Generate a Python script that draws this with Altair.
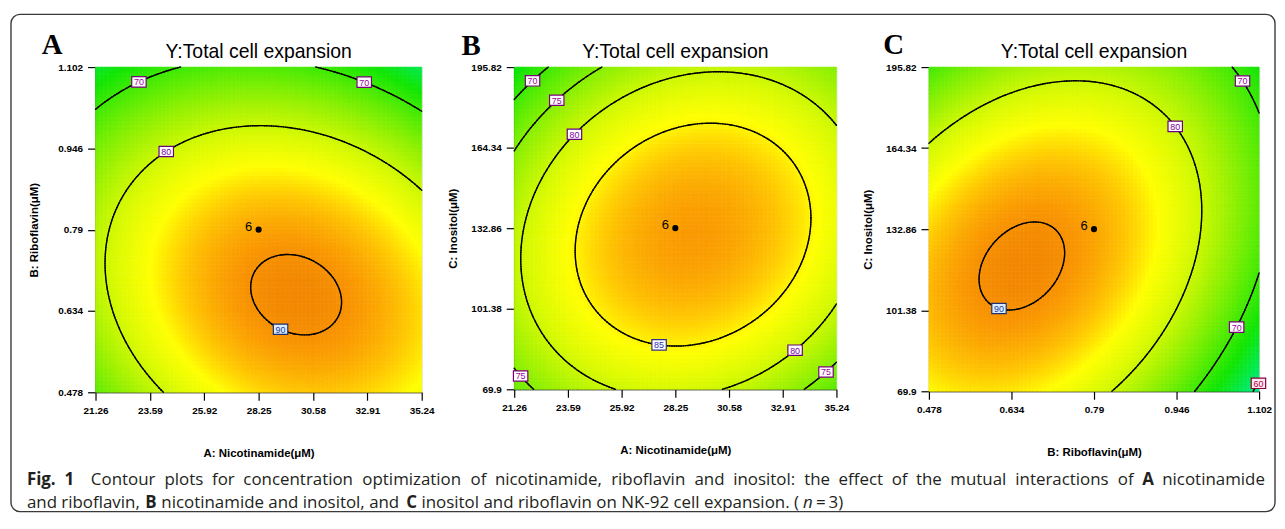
import numpy as np
import pandas as pd
import altair as alt

# ---------------- data ----------------
nico_range = [21.26, 35.24]
ribo_range = [0.478, 1.102]
inos_range = [69.9, 195.82]
nico_ticks = [21.26, 23.59, 25.92, 28.25, 30.58, 32.91, 35.24]
ribo_ticks = [0.478, 0.634, 0.79, 0.946, 1.102]
inos_ticks = [69.9, 101.38, 132.86, 164.34, 195.82]

# second-order response-surface model of each panel (estimated from the contours),
# coded units -1..1:  Y = peak - a*du^2 - b*dv^2 - c*du*dv,  du = u-u0, dv = v-v0
model_A = [90.6, 0.23, -0.40, 8.0, 10.16, 3.36]
model_B = [89.4, 0.11, -0.04, 8.4, 9.4, -2.62]
model_C = [90.6, -0.437, -0.227, 9.8, 8.92, -5.59]

levels_A = [70, 80, 90]
levels_B = [70, 75, 80, 85]
levels_C = [60, 70, 80, 90]

lab_lvl_A = [70, 70, 80, 90]
lab_x_A = [22.97, 32.91, 24.16, 29.27]
lab_y_A = [1.083, 1.083, 0.949, 0.605]

lab_lvl_B = [70, 75, 80, 85, 80, 75, 75]
lab_x_B = [21.94, 23.01, 23.84, 27.60, 33.45, 21.58, 34.85]
lab_y_B = [191.9, 183.5, 169.9, 89.8, 85.1, 75.7, 76.4]

lab_lvl_C = [70, 80, 90, 70, 60]
lab_x_C = [1.083, 0.953, 0.613, 1.047, 1.086]
lab_y_C = [191.8, 174.6, 103.4, 96.1, 74.8]

center_label = ["6"]

color_domain = [56, 62, 67, 72, 77, 81, 84.5, 87, 89.5, 91]
color_range = ["#00f0c8", "#00ea58", "#10e600", "#58ec00", "#a0f200",
               "#d8fa00", "#ffff00", "#ffc800", "#fa9800", "#f08000"]

label_style = {60: ("#b0004a", "#ffe6ee", "#8b0040"),
               70: ("#a000a0", "#ffffff", "#7a007a"),
               75: ("#a000a0", "#ffffff", "#7a007a"),
               80: ("#8000a0", "#ffffff", "#6a0080"),
               85: ("#2a2ab8", "#ffffff", "#303090"),
               90: ("#1c3fa0", "#d8ecff", "#203070")}

caption_line1 = [("Fig.", "b"), ("1", "b"), ("Contour", "r"), ("plots", "r"), ("for", "r"),
                 ("concentration", "r"), ("optimization", "r"), ("of", "r"), ("nicotinamide,", "r"),
                 ("riboflavin", "r"), ("and", "r"), ("inositol:", "r"), ("the", "r"), ("effect", "r"),
                 ("of", "r"), ("the", "r"), ("mutual", "r"), ("interactions", "r"), ("of", "r"),
                 ("A", "b"), ("nicotinamide", "r")]
# (text, style, space before it)
caption_line2 = [("and riboflavin,", "r", 0), ("B", "b", 1), ("nicotinamide and inositol, and", "r", 1),
                 ("C", "b", 1), ("inositol and riboflavin on NK-92 cell expansion. (", "r", 1),
                 ("n", "i", -0.2), ("=\u20093)", "r", 0.6)]

TICK_FONT = "Liberation Sans"
cscale = alt.Scale(domain=color_domain, range=color_range, interpolate="rgb", clamp=True)


def surface(model, u, v):
    peak, u0, v0, a, b, c = model
    du = u - u0
    dv = v - v0
    return peak - a * du * du - b * dv * dv - c * du * dv


def marching(xs, ys, Z, level):
    segs = []
    ny, nx = Z.shape
    for i in range(ny - 1):
        for j in range(nx - 1):
            pts = []
            corners = [(j, i), (j + 1, i), (j + 1, i + 1), (j, i + 1)]
            for k in range(4):
                (ja, ia), (jb, ib) = corners[k], corners[(k + 1) % 4]
                za, zb = Z[ia, ja], Z[ib, jb]
                if (za >= level) != (zb >= level):
                    t = (level - za) / (zb - za)
                    px = xs[ja] + t * (xs[jb] - xs[ja])
                    py = ys[ia] + t * (ys[ib] - ys[ia])
                    pts.append((px, py))
            if len(pts) == 2:
                segs.append(pts[0] + pts[1])
            elif len(pts) == 4:
                segs.append(pts[0] + pts[1])
                segs.append(pts[2] + pts[3])
    return segs


def panel(model, xr, yr, xticks, yticks, xtitle, ytitle, levels,
          lab_lvl, lab_x, lab_y, letter, letter_x, letter_y, w, h, extra=None):
    xc, xh = (xr[0] + xr[1]) / 2, (xr[1] - xr[0]) / 2
    yc, yh = (yr[0] + yr[1]) / 2, (yr[1] - yr[0]) / 2
    N = 84
    xe = np.linspace(xr[0], xr[1], N + 1)
    ye = np.linspace(yr[0], yr[1], N + 1)
    rows = []
    for i in range(N):
        for j in range(N):
            cx = (xe[j] + xe[j + 1]) / 2
            cy = (ye[i] + ye[i + 1]) / 2
            z = surface(model, (cx - xc) / xh, (cy - yc) / yh)
            rows.append((xe[j], xe[j + 1], ye[i], ye[i + 1], round(float(z), 2)))
    heat = pd.DataFrame(rows, columns=["x", "x2", "y", "y2", "z"])
    M = 140
    xs = np.linspace(xr[0], xr[1], M)
    ys = np.linspace(yr[0], yr[1], M)
    U, V = np.meshgrid((xs - xc) / xh, (ys - yc) / yh)
    Z = surface(model, U, V)
    seg_rows = []
    for lv in levels:
        for s in marching(xs, ys, Z, lv):
            seg_rows.append((lv,) + tuple(s))
    segs = pd.DataFrame(seg_rows, columns=["lvl", "x", "y", "x2", "y2"])
    lrows = []
    for lv, lx, ly in zip(lab_lvl, lab_x, lab_y):
        sl = segs[segs.lvl == lv]
        mx = (sl.x + sl.x2) / 2
        my = (sl.y + sl.y2) / 2
        d = ((mx - lx) / xh) ** 2 + ((my - ly) / yh) ** 2
        k = d.idxmin()
        lrows.append((lv, mx[k], my[k], str(lv)))
    labs = pd.DataFrame(lrows, columns=["lvl", "x", "y", "t"])

    xscale = alt.Scale(domain=xr, nice=False, zero=False)
    yscale = alt.Scale(domain=yr, nice=False, zero=False)
    common = dict(grid=False, tickSize=8, tickColor="black", tickWidth=1.2,
                  labelFont=TICK_FONT, labelFontSize=10, labelFontWeight="bold",
                  labelColor="black", labelPadding=5, labelFlush=False, labelOverlap=False,
                  titleFont=TICK_FONT, titleFontSize=11.5, titleFontWeight="bold",
                  titleColor="black", domainColor="black", labelExpr="datum.value + ''")
    xaxis = alt.Axis(values=xticks, title=xtitle, titlePadding=33, **common)
    yaxis = alt.Axis(values=yticks, title=ytitle, titlePadding=16, minExtent=40, maxExtent=40, **common)

    def X():
        return alt.X("x:Q", scale=xscale, axis=xaxis)

    def Y():
        return alt.Y("y:Q", scale=yscale, axis=yaxis)

    layers = []
    layers.append(alt.Chart(heat).mark_rect(strokeWidth=0.6).encode(
        x=X(), x2="x2:Q", y=Y(), y2="y2:Q",
        color=alt.Color("z:Q", scale=cscale, legend=None),
        stroke=alt.Stroke("z:Q", scale=cscale, legend=None)))
    layers.append(alt.Chart(segs).mark_rule(color="black", strokeWidth=1.4, strokeCap="round").encode(
        x=X(), y=Y(), x2="x2:Q", y2="y2:Q"))
    pt = pd.DataFrame({"x": [xc], "y": [yc], "t": center_label})
    layers.append(alt.Chart(pt).mark_circle(size=38, color="black", opacity=1).encode(x=X(), y=Y()))
    layers.append(alt.Chart(pt).mark_text(dx=-10, dy=-3, fontSize=13, font=TICK_FONT,
                                          color="black").encode(x=X(), y=Y(), text="t:N"))
    box = "M-1,-0.72H1V0.72H-1Z"
    for lv in sorted(set(lab_lvl)):
        tc, fc, sc = label_style[lv]
        sub = labs[labs.lvl == lv]
        layers.append(alt.Chart(sub).mark_point(shape=box, size=210, filled=True, fill=fc,
                                                stroke=sc, strokeWidth=1.2, opacity=1).encode(x=X(), y=Y()))
        layers.append(alt.Chart(sub).mark_text(fontSize=9, font=TICK_FONT, color=tc, dy=0.5).encode(
            x=X(), y=Y(), text="t:N"))
    tdf = pd.DataFrame({"t": ["Y:Total cell expansion"]})
    layers.append(alt.Chart(tdf).mark_text(fontSize=19.5, font="Liberation Sans", color="black",
                                           baseline="alphabetic", align="center").encode(
        x=alt.value(w / 2), y=alt.value(-9), text="t:N"))
    ldf = pd.DataFrame({"t": [letter]})
    layers.append(alt.Chart(ldf).mark_text(fontSize=29, font="Liberation Serif", fontWeight="bold",
                                           color="black", baseline="alphabetic", align="left").encode(
        x=alt.value(letter_x), y=alt.value(letter_y), text="t:N"))
    if extra:
        layers.extend(extra)
    return alt.layer(*layers).properties(width=w, height=h)


# ---------------- caption layout (approximate Open Sans advance widths, em) ----------------
W_REG = {" ": .26, ",": .245, "-": .322, ".": .266, ":": .266, "(": .296, ")": .296, "=": .571,
         "\u2009": .2, "A": .633, "B": .648, "C": .631, "K": .618, "N": .764,
         "a": .556, "b": .613, "c": .476, "d": .613, "e": .561, "f": .336, "g": .546, "h": .614,
         "i": .253, "k": .525, "l": .253, "m": .930, "n": .614, "o": .604, "p": .613, "r": .408,
         "s": .477, "t": .353, "u": .614, "v": .500, "x": .524, "y": .501, "z": .468}
W_BOLD = {"F": .575, "i": .29, "g": .569, ".": .286, "1": .571, "A": .69, "B": .676, "C": .632}
CAP_FS = 17
CAP_K = 1.01


def text_w(s, st):
    tab = W_BOLD if st == "b" else W_REG
    return sum(tab.get(ch, W_REG.get(ch, .571)) for ch in s) * CAP_FS * CAP_K


OX, OY = 95, 65
SPACE = text_w(" ", "r")
cap_items = []
# line 1: justified between 26 and 1272
L1_LEFT, L1_RIGHT, L1_BASE, L2_BASE = 26, 1272, 485, 508
widths = [text_w(t, s) for t, s in caption_line1]
gaps_n = len(caption_line1) - 1 + 1  # double space after "Fig. 1"
gap = (L1_RIGHT - L1_LEFT - sum(widths)) / gaps_n
xpos = L1_LEFT
for k, ((t, s), wd) in enumerate(zip(caption_line1, widths)):
    cap_items.append((t, s, xpos, L1_BASE))
    xpos += wd + gap * (2 if k == 1 else 1)
# line 2: natural spacing
xpos = 26
for t, s, sp in caption_line2:
    xpos += sp * SPACE
    cap_items.append((t, s, xpos, L2_BASE))
    xpos += text_w(t, s)

frame = alt.Chart(pd.DataFrame({"a": [0]})).mark_rect(
    fill="transparent", stroke="#3a3a3a", strokeWidth=1.4, cornerRadius=9).encode(
    x=alt.value(10 - OX), x2=alt.value(1281 - OX), y=alt.value(12 - OY), y2=alt.value(512 - OY))

caption = []
for t, st, cx, cy in cap_items:
    kw = dict(fontSize=CAP_FS, font="Open Sans", color="#231f20", align="left", baseline="alphabetic")
    if st == "b":
        kw["fontWeight"] = "bold"
    if st == "i":
        kw["fontStyle"] = "italic"
    caption.append(alt.Chart(pd.DataFrame({"t": [t]})).mark_text(**kw).encode(
        x=alt.value(cx - OX), y=alt.value(cy - OY), text="t:N"))

chart_A = panel(model_A, nico_range, ribo_range, nico_ticks, ribo_ticks,
                "A: Nicotinamide(\u03bcM)", "B: Riboflavin(\u03bcM)", levels_A,
                lab_lvl_A, lab_x_A, lab_y_A, "A", -54, -13, 328, 327, extra=[frame] + caption)
chart_B = panel(model_B, nico_range, inos_range, nico_ticks, inos_ticks,
                "A: Nicotinamide(\u03bcM)", "C: Inositol(\u03bcM)", levels_B,
                lab_lvl_B, lab_x_B, lab_y_B, "B", -53, -12, 324, 324)
chart_C = panel(model_C, ribo_range, inos_range, ribo_ticks, inos_ticks,
                "B: Riboflavin(\u03bcM)", "C: Inositol(\u03bcM)", levels_C,
                lab_lvl_C, lab_x_C, lab_y_C, "C", -46, -13, 332, 326)

chart = alt.hconcat(chart_A, chart_B, chart_C, spacing=93, bounds="flush").properties(
    padding={"left": 1, "top": 3, "right": 0, "bottom": 0}
).configure_view(stroke="black", strokeWidth=1.3).configure(background="white")

chart.save("out.html", embed_options={"renderer": "svg", "actions": False})
